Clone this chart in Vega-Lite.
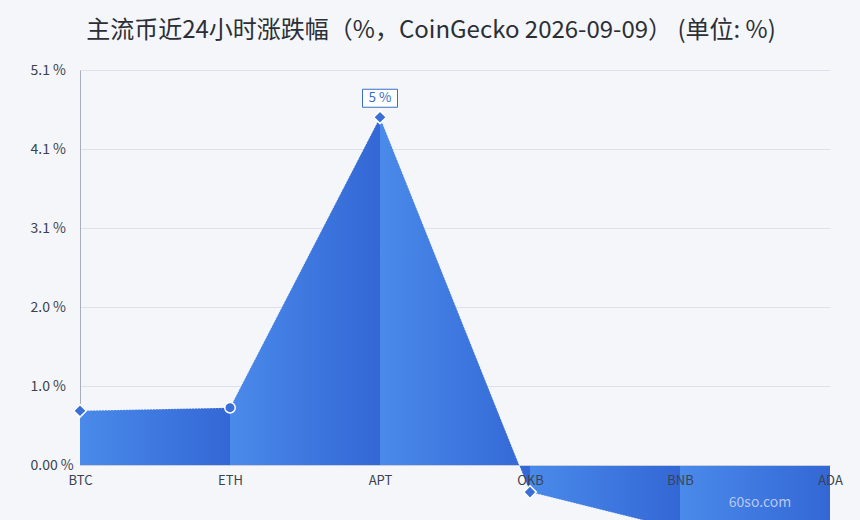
{
  "$schema": "https://vega.github.io/schema/vega-lite/v6.json",
  "autosize": {"type": "none"},
  "width": 750,
  "height": 395,
  "padding": {"left": 80, "top": 70, "right": 30, "bottom": 55},
  "background": "#f4f6fa",
  "title": {
    "text": "主流币近24小时涨跌幅（%，CoinGecko 2026-09-09） (单位: %)",
    "font": "Noto Sans CJK SC",
    "fontSize": 24,
    "fontWeight": "normal",
    "color": "#2b2f36",
    "anchor": "middle",
    "frame": "group",
    "dx": -24,
    "offset": 20
  },
  "config": {
    "font": "Noto Sans CJK SC",
    "view": {"stroke": null}
  },
  "data": {
    "values": [
      {"coin": "BTC", "pct": 0.70},
      {"coin": "ETH", "pct": 0.74},
      {"coin": "APT", "pct": 4.49},
      {"coin": "OKB", "pct": -0.35},
      {"coin": "BNB", "pct": -0.83},
      {"coin": "ADA", "pct": -0.95}
    ]
  },
  "encoding": {
    "x": {
      "field": "coin",
      "type": "ordinal",
      "sort": null,
      "scale": {"type": "point", "padding": 0},
      "axis": {
        "title": null,
        "labelAngle": 0,
        "ticks": false,
        "grid": false,
        "domainColor": "#c9ceda",
        "labelColor": "#3c4350",
        "labelFontSize": 13,
        "labelPadding": 9,
        "zindex": 1
      }
    },
    "y": {
      "field": "pct",
      "type": "quantitative",
      "stack": null,
      "scale": {"domain": [0, 5.1], "nice": false, "zero": false},
      "axis": {
        "title": null,
        "values": [0, 1.02, 2.04, 3.06, 4.08, 5.1],
        "labelExpr": "datum.value == 0 ? '0.00 %' : format(datum.value, '.1f') + ' %'",
        "ticks": false,
        "domainColor": "#a7adba",
        "gridColor": "#dde1ea",
        "labelColor": "#3c4350",
        "labelFontSize": 14,
        "labelAlign": "left",
        "labelPadding": 50
      }
    }
  },
  "layer": [
    {
      "transform": [
        {"window": [{"op": "row_number", "as": "i"}]},
        {"calculate": "datum.i", "as": "a"},
        {"calculate": "datum.i - 1", "as": "b"},
        {"fold": ["a", "b"], "as": ["k", "seg"]},
        {"filter": "datum.seg >= 1 && datum.seg <= 5"}
      ],
      "mark": {
        "type": "area",
        "color": {
          "gradient": "linear",
          "x1": 0, "y1": 0, "x2": 1, "y2": 0,
          "stops": [
            {"offset": 0, "color": "#4a8aea"},
            {"offset": 1, "color": "#3367d5"}
          ]
        }
      },
      "encoding": {"detail": {"field": "seg", "type": "nominal"}}
    },
    {
      "mark": {"type": "line", "stroke": "#ffffff", "strokeWidth": 1, "strokeDash": [1, 2], "opacity": 0.6},
      "encoding": {}
    },
    {
      "mark": {"type": "point", "filled": true, "fill": "#3a6fd8", "stroke": "#ffffff", "strokeWidth": 1.5, "opacity": 1},
      "encoding": {
        "shape": {"condition": {"test": "datum.coin === 'ETH'", "value": "circle"}, "value": "diamond"},
        "size": {"condition": {"test": "datum.coin === 'ETH'", "value": 110}, "value": 160}
      }
    },
    {
      "transform": [{"filter": "datum.coin === 'APT'"}],
      "mark": {
        "type": "point",
        "shape": "M-1,-0.514H1V0.514H-1Z",
        "size": 1225,
        "filled": true,
        "fill": "#ffffff",
        "stroke": "#3a6fc8",
        "strokeWidth": 1,
        "opacity": 1,
        "yOffset": -19
      }
    },
    {
      "transform": [{"filter": "datum.coin === 'APT'"}],
      "mark": {"type": "text", "dy": -19, "fontSize": 13.5, "color": "#3a6fc8"},
      "encoding": {"text": {"value": "5 %"}}
    },
    {
      "transform": [{"filter": "datum.coin === 'ADA'"}],
      "mark": {"type": "text", "fontSize": 14, "fontWeight": "normal", "color": "#c3d2f3", "opacity": 0.9, "dx": -70},
      "encoding": {
        "y": {"datum": -0.49},
        "text": {"value": "60so.com"}
      }
    }
  ]
}
